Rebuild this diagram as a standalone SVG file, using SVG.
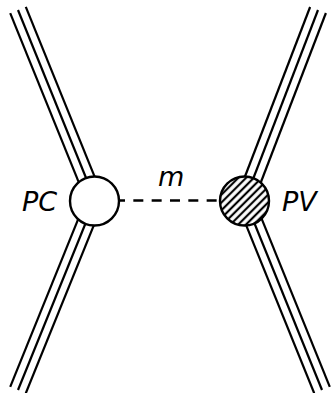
<svg xmlns="http://www.w3.org/2000/svg" width="331" height="393" viewBox="0 0 331 393">
<style>
.ln{stroke:#000;stroke-width:2.2;fill:none}
.node{stroke:#000;stroke-width:2.4}
.lbl{font-family:"DejaVu Sans",sans-serif;font-style:italic;font-size:27px;fill:#000}
</style>
<defs>
<pattern id="hatch" patternUnits="userSpaceOnUse" width="5.5" height="5.5" patternTransform="rotate(-45)">
<rect width="5.5" height="5.5" fill="#fff"/>
<line x1="0" y1="2.75" x2="5.5" y2="2.75" stroke="#000" stroke-width="2.2"/>
</pattern>
</defs>
<g id="connectors">
<g id="leg-tl" class="ln">
<line x1="95" y1="200" x2="18" y2="10"/>
<line x1="102.8" y1="196.8" x2="25.8" y2="6.8"/>
<line x1="87.2" y1="203.2" x2="10.2" y2="13.2"/>
</g>
<g id="leg-bl" class="ln">
<line x1="95" y1="200" x2="18" y2="390"/>
<line x1="102.8" y1="203.2" x2="25.8" y2="393.2"/>
<line x1="87.2" y1="196.8" x2="10.2" y2="386.8"/>
</g>
<g id="leg-tr" class="ln">
<line x1="245" y1="200" x2="318" y2="10"/>
<line x1="237.1" y1="197" x2="310.1" y2="7"/>
<line x1="252.9" y1="203" x2="325.9" y2="13"/>
</g>
<g id="leg-br" class="ln">
<line x1="245" y1="200" x2="322" y2="390"/>
<line x1="237.2" y1="203.2" x2="314.2" y2="393.2"/>
<line x1="252.8" y1="196.8" x2="329.8" y2="386.8"/>
</g>
<line id="prop-m" x1="115" y1="200.5" x2="222" y2="200.5" stroke="#000" stroke-width="2.4" stroke-dasharray="10,8.33"/>
</g>
<g id="PC">
<circle class="node" cx="94.5" cy="201" r="24.5" fill="#fff"/>
<text class="lbl" x="22" y="211">PC</text>
</g>
<g id="PV">
<circle class="node" cx="244.5" cy="201" r="24.5" fill="url(#hatch)"/>
<text class="lbl" x="282" y="211">PV</text>
</g>
<text id="label-m" class="lbl" x="158" y="186">m</text>
</svg>
